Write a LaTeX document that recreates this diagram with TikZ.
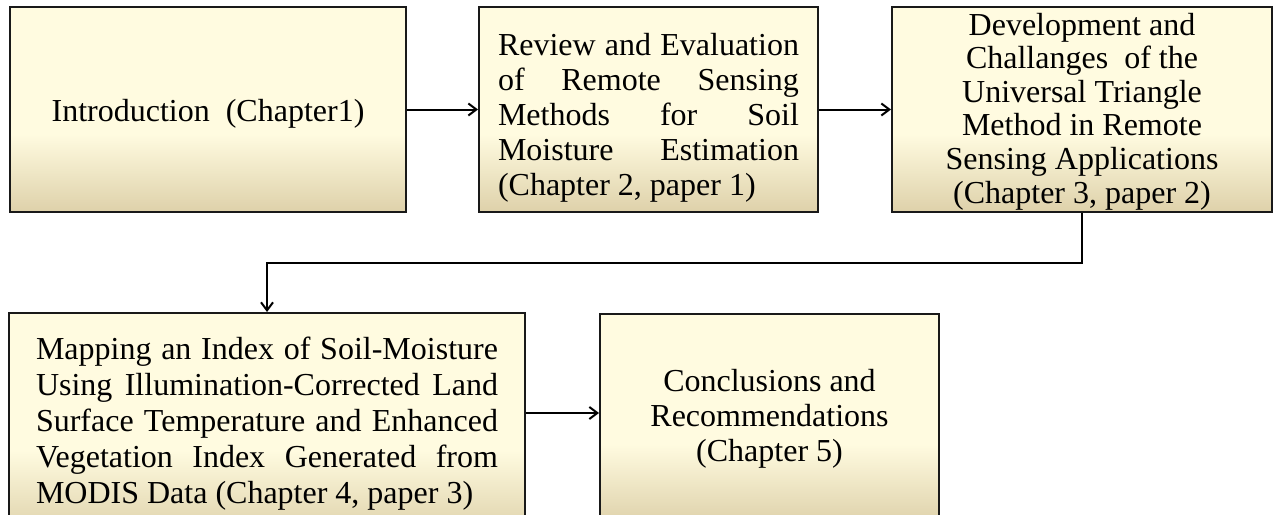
\documentclass[tikz,border=0pt]{standalone}
\usepackage{fontspec}
\setmainfont{Liberation Serif}
\usetikzlibrary{arrows.meta}
\definecolor{boxtop}{RGB}{255, 251, 224}
\definecolor{boxbot}{RGB}{222, 209, 170}
\definecolor{boxline}{RGB}{25, 25, 25}
\pgfdeclareverticalshading{boxshade}{100bp}{color(0bp)=(boxbot); color(25bp)=(boxbot); color(44bp)=(boxtop); color(75bp)=(boxtop); color(100bp)=(boxtop)}
\hyphenpenalty=10000
\exhyphenpenalty=10000

\begin{document}
\begin{tikzpicture}[x=1pt, y=-1pt,
		chapbox/.style={draw=boxline, line width=2pt, shading=boxshade, minimum height=205pt,
			inner xsep=19pt, inner ysep=0pt, font=\fontsize{32}{35}\selectfont},
		flow/.style={line width=2pt, -{Straight Barb[length=8pt,width=12pt]}}]
			\clip (0, 0) rectangle (1274, 514);
			% top row
			\node [chapbox, minimum width=396pt, align=center] (intro) at (208, 109.5) {\rule{0pt}{30pt}Introduction~~(Chapter1)};
			\node [chapbox, text width=301pt, align=justify] (review) at (648.5, 109.5)
				{\rule{0pt}{38pt}Review and Evaluation\linebreak of Remote Sensing\linebreak Methods for Soil\linebreak Moisture Estimation\linebreak (Chapter 2, paper 1)};
			\node [chapbox, minimum width=380pt, align=center, inner xsep=0pt, font=\fontsize{32}{33.6}\selectfont] (triangle) at (1082, 109.5)
				{\rule{0pt}{26pt}Development and\\Challanges~~of the\\Universal Triangle\\Method in Remote\\Sensing Applications\\(Chapter 3, paper 2)};
			% bottom row
			\node [chapbox, anchor=north, minimum width=516pt, minimum height=221pt, text width=462pt, align=justify,
				font=\fontsize{32}{36}\selectfont] (mapping) at (267, 312)
				{Mapping an Index of Soil-Moisture\linebreak Using Illumination-Corrected Land\linebreak Surface Temperature and Enhanced\linebreak Vegetation Index Generated from\linebreak MODIS Data (Chapter 4, paper 3)};
			\node [chapbox, anchor=north, minimum width=339pt, minimum height=210pt, align=center] (concl) at (769.5, 313)
				{Conclusions and\\Recommendations\\(Chapter 5)};
			\draw [flow] (intro) -- (review);
			\draw [flow] (review) -- (triangle);
			\draw [flow] (triangle.south) -- ++(0, 50) -| (mapping.north);
			\draw [flow] (mapping.east |- 0, 413) -- (concl.west |- 0, 413);
		\end{tikzpicture}
\end{document}
